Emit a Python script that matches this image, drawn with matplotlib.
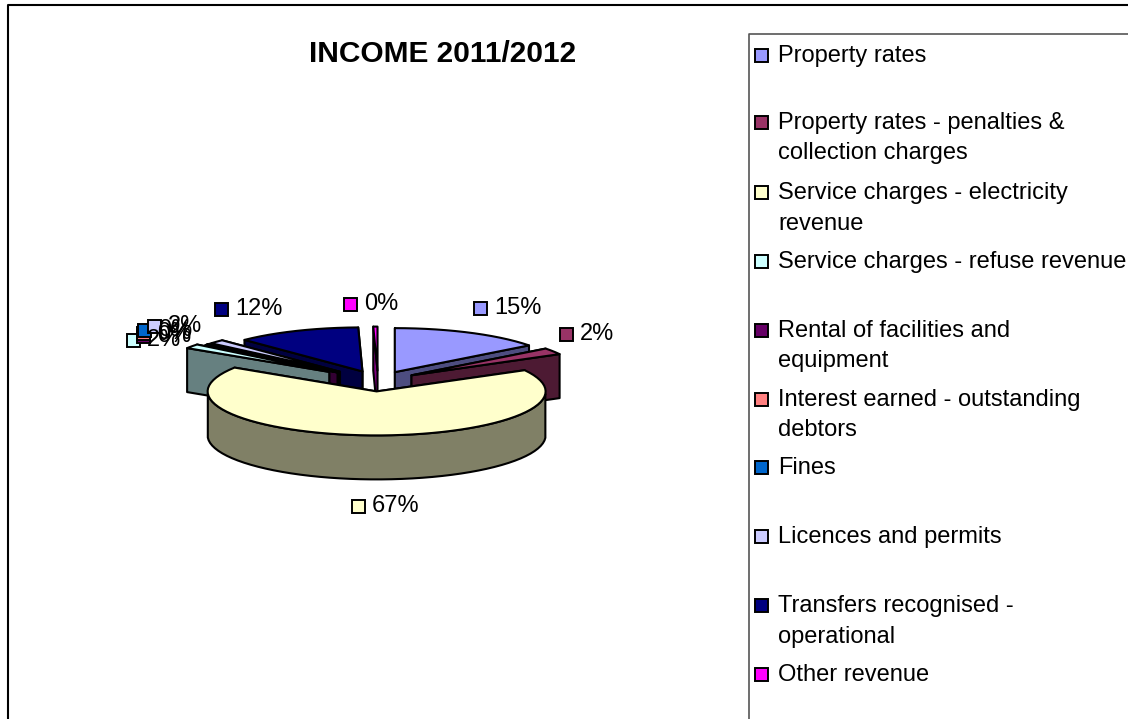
import numpy as np
import matplotlib
matplotlib.use("Agg")
import matplotlib.pyplot as plt
from matplotlib.patches import Polygon, Rectangle

plt.rcParams["font.family"] = ["Liberation Sans", "DejaVu Sans"]

TITLE = "INCOME 2011/2012"
CATEGORIES = [
    "Property rates",
    "Property rates - penalties &\ncollection charges",
    "Service charges - electricity\nrevenue",
    "Service charges - refuse revenue",
    "Rental of facilities and\nequipment",
    "Interest earned - outstanding\ndebtors",
    "Fines",
    "Licences and permits",
    "Transfers recognised -\noperational",
    "Other revenue",
]
VALUES = [14.6, 2.4, 67.1, 1.6, 0.2, 0.1, 0.2, 1.5, 11.9, 0.4]
COLORS = ["#9999FF", "#993366", "#FFFFCC", "#CCFFFF", "#660066",
          "#FF8080", "#0066CC", "#CCCCFF", "#000080", "#FF00FF"]

# Pull-out distance of each slice, in pixels along its mid angle
EXPLODE = [38, 40, 40, 60, 52, 52, 52, 52, 40, 40]
# Back to front, so the big front slice covers the others
DRAW_ORDER = [8, 9, 0, 7, 6, 5, 4, 1, 3, 2]

LABEL_POS = [(480, 308), (566, 334), (358, 506), (133, 340), (143, 336),
             (143, 333), (144, 330), (154, 326), (221, 309), (350, 304)]
LEGEND_Y = [54, 121, 191, 260, 329, 398, 466, 535, 604, 673]

CX, CY = 378, 381
RX, RY = 169, 44
DEPTH = 44
FS = 17.0


def slice_outline(start, end, shift):
    """Top face of one slice: apex followed by the rim points."""
    mid = np.radians((start + end) / 2 * 3.6)
    ax_x = CX + shift * np.sin(mid)
    ax_y = CY - shift * np.cos(mid) * RY / RX
    ang = np.radians(np.linspace(start, end, max(2, int(end - start) + 2)) * 3.6)
    return ax_x, ax_y, ax_x + RX * np.sin(ang), ax_y - RY * np.cos(ang)


def draw_slice(ax, i, start, end):
    ax_x, ax_y, xs, ys = slice_outline(start, end, EXPLODE[i])
    rgb = np.array(matplotlib.colors.to_rgb(COLORS[i]))
    side = rgb * 0.5
    edge = dict(edgecolor="black", linewidth=1.5, joinstyle="round")

    # Cut faces far one first, then the outer rim wall where it faces the viewer
    ends = sorted([(xs[0], ys[0]), (xs[-1], ys[-1])], key=lambda p: p[1])
    for x, y in ends:
        face = [(ax_x, ax_y), (x, y), (x, y + DEPTH), (ax_x, ax_y + DEPTH)]
        ax.add_patch(Polygon(face, facecolor=side, **edge))
    ang = np.radians(np.linspace(start, end, len(xs)) * 3.6)
    front = np.cos(ang) < 0
    if front.any():
        fx, fy = xs[front], ys[front]
        wall = list(zip(fx, fy)) + list(zip(fx[::-1], fy[::-1] + DEPTH))
        ax.add_patch(Polygon(wall, facecolor=side, **edge))
    top = [(ax_x, ax_y)] + list(zip(xs, ys))
    ax.add_patch(Polygon(top, facecolor=rgb, **edge))


def draw_key(ax, x, y, color):
    ax.add_patch(Rectangle((x - 6.5, y - 6.5), 13, 13, facecolor=color,
                           edgecolor="black", linewidth=1.4))


def main():
    fig = plt.figure(figsize=(11.28, 7.19), dpi=100)
    ax = fig.add_axes([0, 0, 1, 1])
    ax.set_xlim(0, 1128)
    ax.set_ylim(719, 0)
    ax.axis("off")

    # Chart frame and legend box run off the right and bottom edges
    ax.plot([8, 8, 1128], [719, 5, 5], color="black", linewidth=1.5)
    ax.plot([749, 749, 1128], [719, 34, 34], color="#555555", linewidth=1.2)

    ax.text(443, 54, TITLE, fontsize=21.5, fontweight="bold", ha="center", va="center")

    total = sum(VALUES)
    edges = np.concatenate([[0], np.cumsum(VALUES)]) / total * 100
    for i in DRAW_ORDER:
        draw_slice(ax, i, edges[i], edges[i + 1])

    for i, (x, y) in enumerate(LABEL_POS):
        draw_key(ax, x, y, COLORS[i])
        ax.text(x + 14, y, f"{round(VALUES[i] / total * 100)}%", fontsize=FS,
                ha="left", va="center")

    for name, y, color in zip(CATEGORIES, LEGEND_Y, COLORS):
        draw_key(ax, 761, y + 1, color)
        ax.text(778, y - 9, name, fontsize=FS, ha="left", va="top", linespacing=1.5)

    fig.savefig("out.png", dpi=100)


if __name__ == "__main__":
    main()
